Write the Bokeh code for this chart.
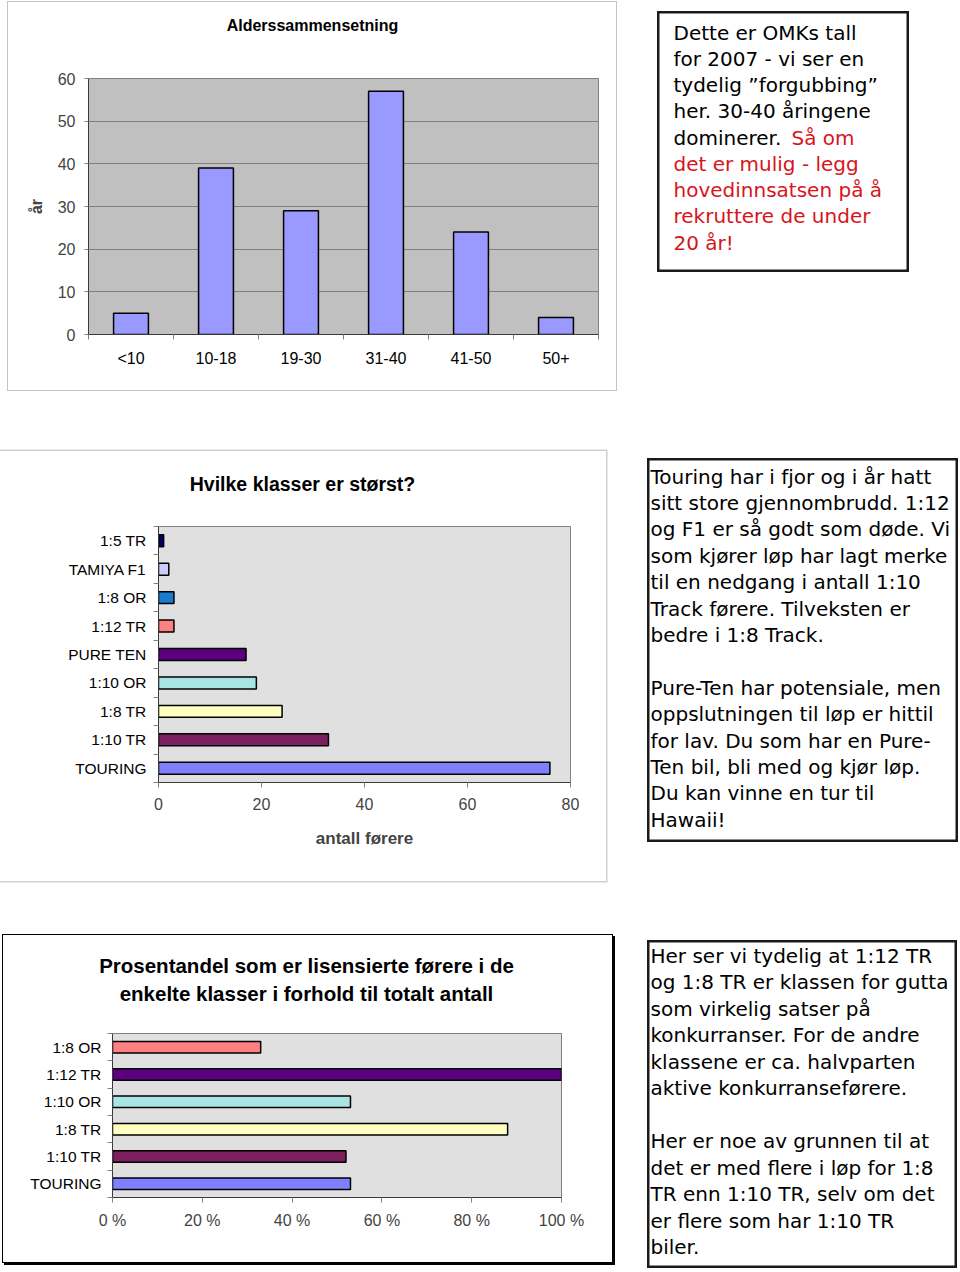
from bokeh.plotting import figure
from bokeh.models import (Range1d, LinearAxis, FixedTicker,
                          ColumnDataSource, Spacer, Grid, PrintfTickFormatter)
from bokeh.layouts import column, row
from bokeh.embed import file_html
from bokeh.resources import INLINE
from bokeh.core.properties import value

# ---------------- data ----------------
age_groups = ["<10", "10-18", "19-30", "31-40", "41-50", "50+"]
age_counts = [5, 39, 29, 57, 24, 4]
age_ticks = [0, 10, 20, 30, 40, 50, 60]

class_names = ["TOURING", "1:10 TR", "1:8 TR", "1:10 OR", "PURE TEN", "1:12 TR", "1:8 OR", "TAMIYA F1", "1:5 TR"]
class_drivers = [76, 33, 24, 19, 17, 3, 3, 2, 1]
class_colors = ["#8080ff", "#7c1f5e", "#ffffc0", "#a8e4e4", "#5c0080", "#ff8080", "#1a7acc", "#ccccff", "#000066"]
driver_ticks = [0, 20, 40, 60, 80]

lic_names = ["TOURING", "1:10 TR", "1:8 TR", "1:10 OR", "1:12 TR", "1:8 OR"]
lic_percent = [53, 52, 88, 53, 100, 33]
lic_colors = ["#8080ff", "#7c1f5e", "#ffffc0", "#a8e4e4", "#5c0080", "#ff8080"]
pct_ticks = [0, 20, 40, 60, 80, 100]

title1 = "Alderssammensetning"
ylabel1 = "år"
title2 = "Hvilke klasser er størst?"
xlabel2 = "antall førere"
title3 = ["Prosentandel som er lisensierte førere i de",
          "enkelte klasser i forhold til totalt antall"]

note1_black = ["Dette er OMKs tall", "for 2007 - vi ser en", "tydelig \u201dforgubbing\u201d",
               "her. 30-40 åringene", "dominerer."]
note1_red = ["Så om", "det er mulig - legg", "hovedinnsatsen på å", "rekruttere de under", "20 år!"]

note2 = ["Touring har i fjor og i år hatt", "sitt store gjennombrudd. 1:12",
         "og F1 er så godt som døde. Vi", "som kjører løp har lagt merke",
         "til en nedgang i antall 1:10", "Track førere. Tilveksten er",
         "bedre i 1:8 Track.", "",
         "Pure-Ten har potensiale, men", "oppslutningen til løp er hittil",
         "for lav. Du som har en Pure-", "Ten bil, bli med og kjør løp.",
         "Du kan vinne en tur til", "Hawaii!"]

note3 = ["Her ser vi tydelig at 1:12 TR", "og 1:8 TR er klassen for gutta",
         "som virkelig satser på", "konkurranser. For de andre",
         "klassene er ca. halvparten", "aktive konkurranseførere.", "",
         "Her er noe av grunnen til at", "det er med flere i løp for 1:8",
         "TR enn 1:10 TR, selv om det", "er flere som har 1:10 TR", "biler."]

# ---------------- styles ----------------
SANS = "Liberation Sans"
NOTE_FONT = "DejaVu Sans"
AXIS_DARK = "#3a3a3a"
TICK_GRAY = "#808080"
RED = "#d8141c"


def base_fig(w, h, xr, yr, ml, mr, mt, mb, bg):
    p = figure(width=w, height=h, x_range=xr, y_range=yr,
               x_axis_location=None, y_axis_location=None,
               toolbar_location=None, output_backend="svg",
               min_border_left=ml, min_border_right=mr,
               min_border_top=mt, min_border_bottom=mb,
               background_fill_color=bg, border_fill_color="#ffffff",
               outline_line_color="#808080", outline_line_width=1)
    p.grid.visible = False
    return p


def category_axis(p, names, side, standoff, size):
    """Excel-like category axis: tick marks between categories, labels at centres."""
    n = len(names)
    centres = [i + 0.5 for i in range(n)]
    ax = LinearAxis(ticker=FixedTicker(ticks=centres, minor_ticks=list(range(n + 1))),
                    major_label_overrides={c: nm for c, nm in zip(centres, names)},
                    axis_line_color=AXIS_DARK, major_tick_line_color=None,
                    major_tick_out=0, major_tick_in=0,
                    minor_tick_line_color=TICK_GRAY, minor_tick_out=5, minor_tick_in=0,
                    major_label_standoff=standoff,
                    major_label_text_font=SANS, major_label_text_font_size=size,
                    major_label_text_color="#000000")
    p.add_layout(ax, side)
    return centres


def title_line(p, text, centre_px, frame_left, frame_width, standoff, size):
    """Chart title set above the frame, centred on a given horizontal position."""
    xr = p.x_range
    pos = round(xr.start + (centre_px - frame_left) / frame_width * (xr.end - xr.start), 3)
    ax = LinearAxis(ticker=FixedTicker(ticks=[pos], minor_ticks=[]),
                    major_label_overrides={pos: text},
                    axis_line_color=None, major_tick_line_color=None,
                    minor_tick_line_color=None, major_tick_out=0, major_tick_in=0,
                    major_label_standoff=standoff, major_label_text_font=SANS,
                    major_label_text_font_size=size, major_label_text_font_style="bold",
                    major_label_text_color="#000000")
    p.add_layout(ax, "above")


# ---------------- chart 1 ----------------
W1, H1, L1, R1, T1, B1 = 608, 388, 80, 18, 76, 56
p1 = base_fig(W1, H1, Range1d(0, len(age_groups)), Range1d(0, 60), L1, R1, T1, B1, "#c0c0c0")
p1.add_layout(Grid(dimension=1, ticker=FixedTicker(ticks=age_ticks),
                   grid_line_color="#808080", grid_line_width=1))
ya1 = LinearAxis(ticker=FixedTicker(ticks=age_ticks), axis_label=ylabel1,
                 axis_label_text_font=SANS, axis_label_text_font_size="16px",
                 axis_label_text_font_style="bold", axis_label_standoff=10,
                 major_tick_out=4, major_tick_in=0, major_label_standoff=9,
                 axis_line_color=AXIS_DARK, major_tick_line_color=TICK_GRAY,
                 minor_tick_line_color=None, major_label_text_font=SANS,
                 major_label_text_font_size="16px")
p1.add_layout(ya1, "left")
pos1 = category_axis(p1, age_groups, "below", 10, "16px")
src1 = ColumnDataSource(dict(x=pos1, group=age_groups, count=age_counts))
p1.vbar(x="x", top="count", width=0.41, source=src1,
        fill_color="#9999ff", line_color="#000000", line_width=1.5)
title_line(p1, title1, 304, L1, W1 - L1 - R1, 45, "16px")
p1.styles = {"box-shadow": "0 0 0 1px #c4c4c4"}

# ---------------- chart 2 ----------------
W2, H2, L2, R2, T2, B2 = 606, 430, 158, 36, 75, 99
p2 = base_fig(W2, H2, Range1d(0, 80), Range1d(0, len(class_names)), L2, R2, T2, B2, "#e0e0e0")
xa2 = LinearAxis(ticker=FixedTicker(ticks=driver_ticks), axis_label=xlabel2,
                 axis_label_text_font=SANS, axis_label_text_font_size="17px",
                 axis_label_text_font_style="bold", axis_label_standoff=16,
                 major_tick_out=5, major_tick_in=0, major_label_standoff=10,
                 axis_line_color=AXIS_DARK, major_tick_line_color=TICK_GRAY,
                 minor_tick_line_color=None, major_label_text_font=SANS,
                 major_label_text_font_size="16px")
p2.add_layout(xa2, "below")
pos2 = category_axis(p2, class_names, "left", 7, "15.5px")
src2 = ColumnDataSource(dict(y=pos2, name=class_names, n=class_drivers, color=class_colors))
p2.hbar(y="y", left=0, right="n", height=0.42, source=src2,
        fill_color="color", line_color="#000000", line_width=1.5)
title_line(p2, title2, 302, L2, W2 - L2 - R2, 32, "19.5px")
p2.styles = {"box-shadow": "0 0 0 1.5px #d0d0d0"}

# ---------------- chart 3 ----------------
W3, H3, L3, R3, T3, B3 = 609, 327, 109, 51, 98, 65
p3 = base_fig(W3, H3, Range1d(0, 100), Range1d(0, len(lic_names)), L3, R3, T3, B3, "#e0e0e0")
xa3 = LinearAxis(ticker=FixedTicker(ticks=pct_ticks), formatter=PrintfTickFormatter(format="%d %%"),
                 major_tick_out=5, major_tick_in=0, major_label_standoff=9,
                 axis_line_color=AXIS_DARK, major_tick_line_color=TICK_GRAY,
                 minor_tick_line_color=None, major_label_text_font=SANS,
                 major_label_text_font_size="16px")
p3.add_layout(xa3, "below")
pos3 = category_axis(p3, lic_names, "left", 6, "15.5px")
src3 = ColumnDataSource(dict(y=pos3, name=lic_names, pct=lic_percent, color=lic_colors))
p3.hbar(y="y", left=0, right="pct", height=0.42, source=src3,
        fill_color="color", line_color="#000000", line_width=1.5)
# second title line sits nearest the frame, the first one above it
title_line(p3, title3[1], 303, L3, W3 - L3 - R3, 29, "20.5px")
title_line(p3, title3[0], 303, L3, W3 - L3 - R3, 2, "20.5px")
p3.styles = {"box-shadow": "0 0 0 1px #000000, 2px 2px 0 1px #000000"}


# ---------------- text boxes ----------------
def note_box(w, h, texts, xs, ys, colors):
    p = figure(width=w, height=h, x_range=Range1d(0, w), y_range=Range1d(h, 0),
               x_axis_location=None, y_axis_location=None,
               toolbar_location=None, output_backend="svg", min_border=0,
               outline_line_color="#1a1a1a", outline_line_width=4,
               background_fill_color="#ffffff", border_fill_color="#ffffff")
    p.grid.visible = False
    src = ColumnDataSource(dict(text=texts, x=xs, y=ys, color=colors))
    p.text(x="x", y="y", text="text", text_color="color", source=src,
           text_font=value(NOTE_FONT), text_font_size="20px",
           text_baseline="middle", text_align="left")
    return p


# box 1 (black lines, then red continuing on the same row as the last black line)
X1, Y1, DY1, RED_INDENT = 16, 21, 26.25, 118
t1, x1, y1, c1 = [], [], [], []
for i, s in enumerate(note1_black):
    t1.append(s); x1.append(X1); y1.append(Y1 + DY1 * i); c1.append("#000000")
start = len(note1_black) - 1
for j, s in enumerate(note1_red):
    t1.append(s); x1.append(X1 + (RED_INDENT if j == 0 else 0))
    y1.append(Y1 + DY1 * (start + j)); c1.append(RED)
tb1 = note_box(252, 261, t1, x1, y1, c1)


def lines_box(w, h, lines, x0, y0, dy):
    t, x, y, c = [], [], [], []
    for i, s in enumerate(lines):
        if s:
            t.append(s); x.append(x0); y.append(y0 + dy * i); c.append("#000000")
    return note_box(w, h, t, x, y, c)


tb2 = lines_box(311, 384, note2, 3, 18, 26.4)
tb3 = lines_box(310, 328, note3, 3, 15, 26.5)

layout = column(
    row(Spacer(width=8, height=1), column(Spacer(width=W1, height=2), p1),
        Spacer(width=41, height=1), column(Spacer(width=252, height=11), tb1)),
    Spacer(width=10, height=61),
    row(p2, Spacer(width=41, height=1), column(Spacer(width=311, height=7), tb2)),
    Spacer(width=10, height=54),
    row(Spacer(width=3, height=1), p3, Spacer(width=35, height=1),
        column(Spacer(width=310, height=5), tb3)),
)

open("out.html", "w").write(file_html(layout, INLINE))
